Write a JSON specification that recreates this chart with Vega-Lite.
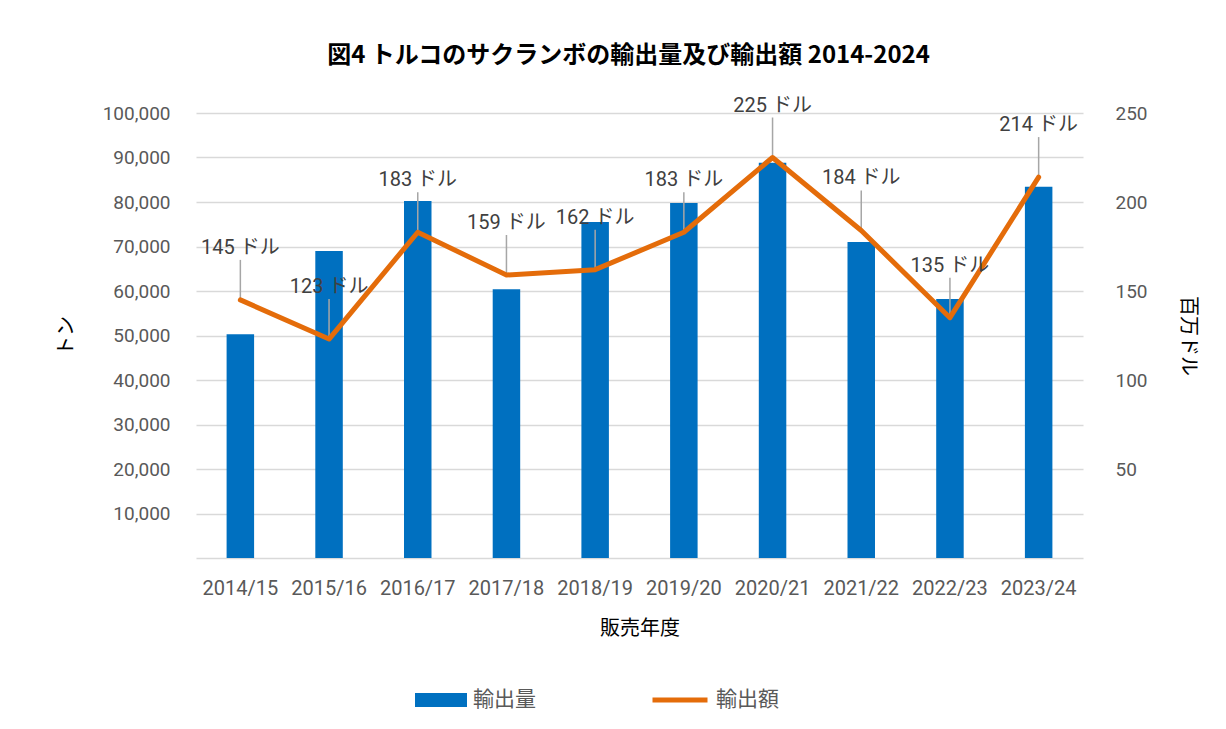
{
  "$schema": "https://vega.github.io/schema/vega-lite/v6.json",
  "width": 887,
  "height": 445,
  "autosize": {"type": "none"},
  "padding": {"left": 196, "top": 113, "right": 143, "bottom": 171},
  "background": "white",
  "title": {
    "text": "図4  トルコのサクランボの輸出量及び輸出額 2014-2024",
    "font": "Noto Sans CJK JP",
    "fontSize": 24,
    "fontWeight": "bold",
    "color": "#000000",
    "anchor": "middle",
    "offset": 28,
    "dx": -11
  },
  "config": {
    "view": {"stroke": null},
    "font": "Roboto, Noto Sans CJK JP"
  },
  "data": {
    "values": [
      {"year": "2014/15", "volume": 50300, "value": 145, "label": "145 ドル"},
      {"year": "2015/16", "volume": 69000, "value": 123, "label": "123 ドル"},
      {"year": "2016/17", "volume": 80200, "value": 183, "label": "183 ドル"},
      {"year": "2017/18", "volume": 60400, "value": 159, "label": "159 ドル"},
      {"year": "2018/19", "volume": 75500, "value": 162, "label": "162 ドル"},
      {"year": "2019/20", "volume": 79800, "value": 183, "label": "183 ドル"},
      {"year": "2020/21", "volume": 88800, "value": 225, "label": "225 ドル"},
      {"year": "2021/22", "volume": 71000, "value": 184, "label": "184 ドル"},
      {"year": "2022/23", "volume": 58200, "value": 135, "label": "135 ドル"},
      {"year": "2023/24", "volume": 83400, "value": 214, "label": "214 ドル"}
    ]
  },
  "encoding": {
    "x": {
      "field": "year",
      "type": "nominal",
      "sort": null,
      "scale": {"paddingInner": 0, "paddingOuter": 0},
      "axis": {
        "title": "販売年度",
        "titleFont": "Noto Sans CJK JP",
        "titleFontSize": 20,
        "titleFontWeight": "normal",
        "titleColor": "#000000",
        "titlePadding": 20,
        "labelAngle": 0,
        "labelFont": "Roboto",
        "labelFontSize": 20,
        "labelColor": "#595959",
        "labelPadding": 20,
        "ticks": false,
        "domainColor": "#d9d9d9",
        "domainWidth": 1.5,
        "grid": false
      }
    }
  },
  "layer": [
    {
      "mark": {"type": "bar", "width": {"band": 0.31}},
      "encoding": {
        "y": {
          "field": "volume",
          "type": "quantitative",
          "scale": {"domain": [0, 100000]},
          "axis": {
            "title": "トン",
            "titleFont": "Noto Sans CJK JP",
            "titleFontSize": 20,
            "titleFontWeight": "normal",
            "titleColor": "#000000",
            "titlePadding": 26,
            "values": [10000, 20000, 30000, 40000, 50000, 60000, 70000, 80000, 90000, 100000],
            "format": ",d",
            "labelFont": "Roboto",
            "labelFontSize": 19,
            "labelColor": "#595959",
            "labelPadding": 26,
            "ticks": false,
            "domain": false,
            "grid": true,
            "gridColor": "#d9d9d9",
            "gridWidth": 1.5
          }
        },
        "fill": {
          "datum": "輸出量",
          "type": "nominal",
          "scale": {"range": ["#0070C0"]},
          "legend": {
            "orient": "none",
            "legendX": 219,
            "legendY": 561,
            "title": null,
            "padding": 0,
            "symbolType": "M-1,-0.27H1V0.27H-1Z",
            "symbolSize": 2704,
            "symbolStrokeWidth": 0,
            "labelFont": "Noto Sans CJK JP",
            "labelFontSize": 21,
            "labelColor": "#595959",
            "labelOffset": 6
          }
        }
      }
    },
    {
      "encoding": {
        "y": {
          "field": "value",
          "type": "quantitative",
          "scale": {"domain": [0, 250]},
          "axis": {
            "orient": "right",
            "title": "百万ドル",
            "titleFont": "Noto Sans CJK JP",
            "titleFontSize": 20,
            "titleFontWeight": "normal",
            "titleColor": "#000000",
            "titlePadding": 30,
            "values": [50, 100, 150, 200, 250],
            "labelFont": "Roboto",
            "labelFontSize": 19,
            "labelColor": "#595959",
            "labelPadding": 32,
            "ticks": false,
            "domain": false,
            "grid": false
          }
        }
      },
      "layer": [
        {
          "mark": {
            "type": "point",
            "shape": "M0,0V-1",
            "size": 6400,
            "filled": false,
            "stroke": "#a6a6a6",
            "strokeWidth": 1.5,
            "opacity": 1
          }
        },
        {
          "mark": {"type": "line", "strokeWidth": 5, "strokeJoin": "round", "strokeCap": "round"},
          "encoding": {
            "stroke": {
              "datum": "輸出額",
              "type": "nominal",
              "scale": {"range": ["#E46C0A"]},
              "legend": {
                "orient": "none",
                "legendX": 454,
                "legendY": 557,
                "title": null,
                "padding": 0,
                "symbolType": "stroke",
                "symbolSize": 3025,
                "symbolStrokeWidth": 5,
                "labelFont": "Noto Sans CJK JP",
                "labelFontSize": 21,
                "labelColor": "#595959",
                "labelOffset": 6
              }
            }
          }
        },
        {
          "mark": {
            "type": "text",
            "baseline": "bottom",
            "dy": -42,
            "fontSize": 20,
            "font": "Roboto, Noto Sans CJK JP",
            "color": "#404040"
          },
          "encoding": {"text": {"field": "label", "type": "nominal"}}
        }
      ]
    }
  ],
  "resolve": {"scale": {"y": "independent", "fill": "independent", "stroke": "independent"}}
}
